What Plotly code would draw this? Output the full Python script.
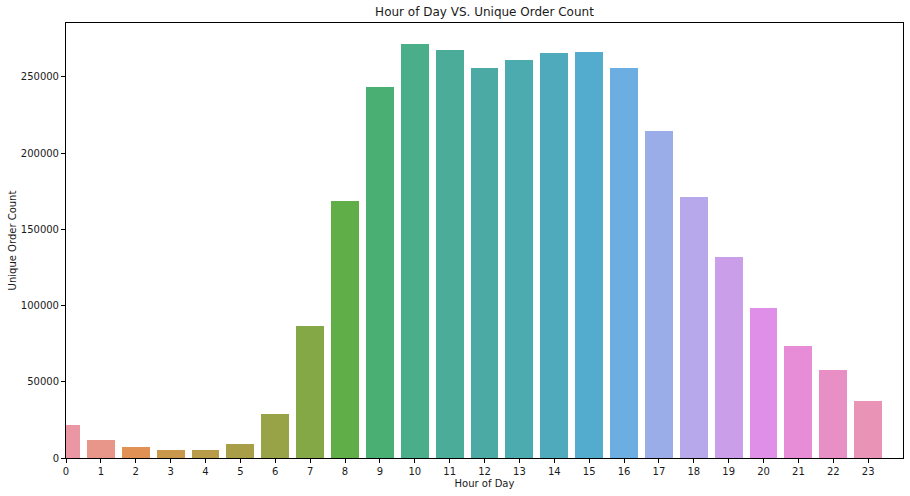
"""Hour of day vs. unique order count, seaborn-style bar chart in Plotly."""

import colorsys
import math

import plotly.graph_objects as go

# --- Data --------------------------------------------------------------------

hours = list(range(24))
order_counts = [
    21650, 11800, 7200, 5250, 5250, 9200, 28900, 86600,
    168600, 243400, 271600, 267700, 255900, 261200, 265700, 266400,
    255900, 214500, 171200, 131900, 98400, 73500, 57700, 37400,
]
y_ticks = [0, 50000, 100000, 150000, 200000, 250000]

# --- Seaborn husl palette (husl_palette(24) + desaturate(0.75)) --------------

_M = [
    [3.240969941904521, -1.537383177570093, -0.498610760293],
    [-0.96924363628087, 1.87596750150772, 0.041555057407175],
    [0.055630079696993, -0.20397695888897, 1.056971514242878],
]
_REF_U = 0.19783000664283
_REF_V = 0.46831999493879


def _max_chroma(L, H):
    hrad = math.radians(H)
    sin_h, cos_h = math.sin(hrad), math.cos(hrad)
    sub1 = (L + 16) ** 3 / 1560896.0
    sub2 = sub1 if sub1 > 0.008856 else L / 903.3
    result = float("inf")
    for m1, m2, m3 in _M:
        top = (0.99915 * m1 + 1.05122 * m2 + 1.14460 * m3) * sub2
        rbottom = 0.86330 * m3 - 0.17266 * m2
        lbottom = 0.12949 * m3 - 0.38848 * m1
        bottom = (rbottom * sin_h + lbottom * cos_h) * sub2
        for t in (0.0, 1.0):
            c = L * (top - 1.05122 * t) / (bottom + 0.17266 * sin_h * t)
            if 0.0 < c < result:
                result = c
    return result


def _from_linear(c):
    return 12.92 * c if c <= 0.0031308 else 1.055 * c ** (1 / 2.4) - 0.055


def _husl_to_rgb(H, S, L):
    C = _max_chroma(L, H) / 100.0 * S
    hrad = math.radians(H)
    U, V = math.cos(hrad) * C, math.sin(hrad) * C
    var_y = ((L + 16) / 116.0) ** 3 if L > 8 else L / 903.3
    var_u = U / (13 * L) + _REF_U
    var_v = V / (13 * L) + _REF_V
    Y = var_y
    X = -(9 * Y * var_u) / ((var_u - 4) * var_v - var_u * var_v)
    Z = (9 * Y - 15 * var_v * Y - var_v * X) / (3 * var_v)
    return [min(max(_from_linear(r[0] * X + r[1] * Y + r[2] * Z), 0), 1) for r in _M]


def seaborn_bar_colors(n, h=0.01, s=0.9, l=0.7, sat=0.75):
    colors = []
    for i in range(n):
        hue = ((i / n + h) % 1) * 359
        r, g, b = _husl_to_rgb(hue, s * 99, l * 99)
        hh, ll, ss = colorsys.rgb_to_hls(r, g, b)
        r, g, b = colorsys.hls_to_rgb(hh, ll, ss * sat)
        colors.append(f"rgb({r * 255:.0f},{g * 255:.0f},{b * 255:.0f})")
    return colors


bar_colors = seaborn_bar_colors(len(hours))

# --- Figure ------------------------------------------------------------------

FONT = "DejaVu Sans"
TEXT = "#1a1a1a"

fig = go.Figure(
    go.Bar(
        x=hours,
        y=order_counts,
        width=0.8,
        marker=dict(color=bar_colors, line=dict(width=0)),
        showlegend=False,
    )
)

axis_common = dict(
    showline=True,
    linecolor="black",
    linewidth=1,
    mirror=True,
    ticks="outside",
    ticklen=4,
    tickwidth=1,
    tickcolor="black",
    showgrid=False,
    zeroline=False,
    automargin=False,
    tickfont=dict(family=FONT, size=10, color=TEXT),
)

fig.update_xaxes(
    range=[0, 24],
    tickmode="array",
    tickvals=hours,
    ticktext=[str(h) for h in hours],
    title=dict(text="Hour of Day", font=dict(family=FONT, size=10, color=TEXT), standoff=3),
    **axis_common,
)
fig.update_yaxes(
    range=[0, 285400],
    tickmode="array",
    tickvals=y_ticks,
    ticktext=[str(v) for v in y_ticks],
    title=dict(text="Unique Order Count", font=dict(family=FONT, size=10, color=TEXT), standoff=2),
    **axis_common,
)

fig.update_layout(
    width=910,
    height=496,
    margin=dict(l=66, r=7, t=23, b=38),
    paper_bgcolor="white",
    plot_bgcolor="white",
    bargap=0,
    title=dict(
        text="Hour of Day VS. Unique Order Count",
        font=dict(family=FONT, size=12, color=TEXT),
        x=0.5,
        xref="paper",
        y=1 - 12 / 496,
        yref="container",
        yanchor="middle",
    ),
)

fig.write_html(
    "out.html",
    config={"displayModeBar": False},
    post_script="document.body.style.margin='0';",
)
